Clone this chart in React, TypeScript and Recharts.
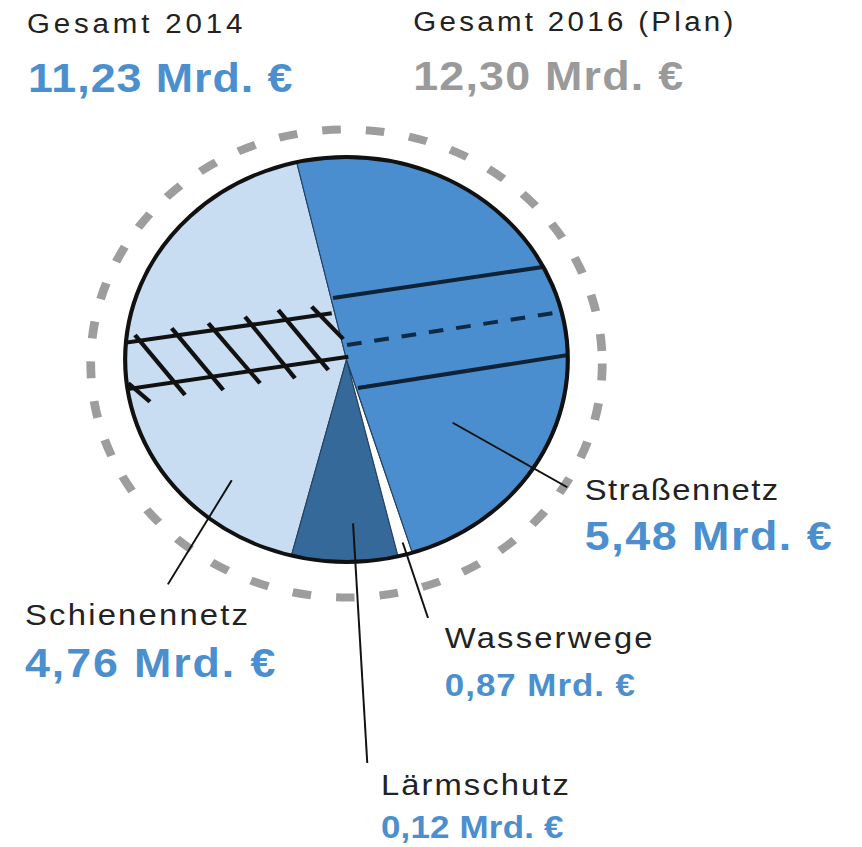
import { PieChart, Pie, Cell } from "recharts";

// Bundeshaushalt Verkehrsinfrastruktur, Mrd. €
const categories = ["Schienennetz", "Wasserwege", "Lärmschutz", "Straßennetz"];
const values2014 = [4.76, 0.87, 0.12, 5.48];
const total2014 = 11.23;
const total2016 = 12.3;
const sliceColors = ["#c8ddf1", "#35699a", "#ffffff", "#4a8ecf"];

// the source picture is stretched horizontally
const S = 1.093;
const W = 862 / S;
const H = 847;
const CX = 317;
const CY = 359.5;
const R = 202.5;
const START = 103;

const fmt = (v: number) => v.toFixed(2).replace(".", ",") + " Mrd. €";

const polar = (angle: number, r: number) => ({
  x: CX + r * Math.cos((angle * Math.PI) / 180),
  y: CY - r * Math.sin((angle * Math.PI) / 180),
});

// label layout per category (text position + leader line in polar coords)
const labelLayout = [
  { x: 22.9, nameY: 625, valueY: 677, nameLen: 204, valueLen: 229, big: true, from: [229, 160], to: [234, 278] },
  { x: 407, nameY: 648, valueY: 696, nameLen: 190, valueLen: 174, big: false, from: [285.7, 190], to: [286.1, 269] },
  { x: 348.5, nameY: 795, valueY: 838, nameLen: 172, valueLen: 167, big: false, from: [272.1, 164], to: [272.7, 404] },
  { x: 535, nameY: 500, valueY: 550, nameLen: 177, valueLen: 226, big: true, from: [326.9, 116], to: [327.7, 239] },
];

// rail track symbol on Schienennetz, road symbol on Straßennetz
const rails = [
  [117.4, 343.3, 303.5, 313.3],
  [117.4, 390, 318.7, 356.7],
];
const ties = [
  [117.4, 383.3, 137.2, 401.7],
  [123.5, 335, 169.3, 395],
  [157.1, 328.3, 204.3, 390],
  [190.6, 323.3, 237.9, 383.3],
  [224.2, 316.7, 269.9, 378.3],
  [254.6, 310, 300.4, 370],
  [285.2, 306.7, 314, 339],
];
const roadEdges = [
  [304.7, 298, 496.8, 267],
  [327.5, 388, 519.7, 355],
];
const roadCenter = [317.5, 345, 512.4, 312];

const FONT = "'Liberation Sans', Arial, sans-serif";
const BLUE = "#4b8fcf";

export default function App() {
  const data = categories.map((name, i) => ({ name, value: values2014[i] }));

  return (
    <div
      style={{
        position: "absolute",
        left: 0,
        top: 0,
        width: W,
        height: H,
        transform: `scaleX(${S})`,
        transformOrigin: "0 0",
        background: "#fff",
      }}
    >
      <div style={{ position: "absolute", left: 0, top: 0 }}>
        <PieChart width={W} height={H} margin={{ top: 0, right: 0, bottom: 0, left: 0 }}>
          <Pie
            data={data}
            dataKey="value"
            nameKey="name"
            cx={CX}
            cy={CY}
            outerRadius={R}
            startAngle={START}
            endAngle={START + 360}
            stroke="#23405e"
            strokeWidth={1}
            isAnimationActive={false}
          >
            {data.map((d, i) => (
              <Cell key={d.name} fill={sliceColors[i]} />
            ))}
          </Pie>
        </PieChart>
      </div>

      <svg width={W} height={H} style={{ position: "absolute", left: 0, top: 0, overflow: "visible" }}>
        {/* 2016 plan outline */}
        <circle cx={CX} cy={363.5} r={234} fill="none" stroke="#9d9d9d" strokeWidth={8} strokeDasharray="17 23" />

        <clipPath id="pieClip">
          <circle cx={CX} cy={CY} r={R} />
        </clipPath>
        <g clipPath="url(#pieClip)">
          {rails.map((l, i) => (
            <line key={"r" + i} x1={l[0] - 6} y1={l[1]} x2={l[2]} y2={l[3]} stroke="#111" strokeWidth={4} />
          ))}
          {ties.map((l, i) => (
            <line key={"t" + i} x1={l[0]} y1={l[1]} x2={l[2]} y2={l[3]} stroke="#111" strokeWidth={4} />
          ))}
          {roadEdges.map((l, i) => (
            <line key={"e" + i} x1={l[0]} y1={l[1]} x2={l[2] + 6} y2={l[3] - 1} stroke="#0f2236" strokeWidth={4} />
          ))}
          <line
            x1={roadCenter[0]}
            y1={roadCenter[1]}
            x2={roadCenter[2]}
            y2={roadCenter[3]}
            stroke="#0f2a45"
            strokeWidth={4}
            strokeDasharray="13.5 11.8"
          />
        </g>

        <circle cx={CX} cy={CY} r={R} fill="none" stroke="#111" strokeWidth={3.8} />

        {/* leader lines */}
        {labelLayout.map((l, i) => {
          const a = polar(l.from[0], l.from[1]);
          const b = polar(l.to[0], l.to[1]);
          return <line key={"l" + i} x1={a.x} y1={a.y} x2={b.x} y2={b.y} stroke="#111" strokeWidth={1.8} />;
        })}

        {/* header */}
        <text x={24.7} y={33} fontFamily={FONT} fontSize={27} fill="#222" textLength={197} lengthAdjust="spacing">
          Gesamt 2014
        </text>
        <text x={25.6} y={92} fontFamily={FONT} fontSize={41} fontWeight="bold" fill={BLUE} textLength={242} lengthAdjust="spacing">
          {fmt(total2014)}
        </text>
        <text x={378} y={31} fontFamily={FONT} fontSize={27} fill="#222" textLength={293} lengthAdjust="spacing">
          Gesamt 2016 (Plan)
        </text>
        <text x={378} y={90} fontFamily={FONT} fontSize={41} fontWeight="bold" fill="#9a9a9a" textLength={247} lengthAdjust="spacing">
          {fmt(total2016)}
        </text>

        {/* slice labels */}
        {labelLayout.map((l, i) => (
          <g key={"t" + i}>
            <text x={l.x} y={l.nameY} fontFamily={FONT} fontSize={30} fill="#222" textLength={l.nameLen} lengthAdjust="spacing">
              {categories[i]}
            </text>
            <text
              x={l.x}
              y={l.valueY}
              fontFamily={FONT}
              fontSize={l.big ? 41 : 32}
              fontWeight="bold"
              fill={BLUE}
              textLength={l.valueLen}
              lengthAdjust="spacing"
            >
              {fmt(values2014[i])}
            </text>
          </g>
        ))}
      </svg>
    </div>
  );
}
